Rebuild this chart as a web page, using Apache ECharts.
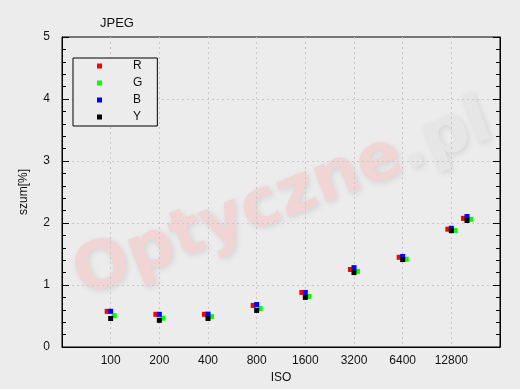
<!DOCTYPE html>
<html>
<head>
<meta charset="utf-8">
<script src="https://cdn.jsdelivr.net/npm/echarts@6/dist/echarts.min.js"></script>
<style>
html,body{margin:0;padding:0;background:#ececec;}
#chart{width:520px;height:389px;}
</style>
</head>
<body>
<div id="chart"></div>
<script>
// ISO tick labels (axis categories) and ISO values of measured points, expressed relative to ISO 100
const isoLabels = ['100', '200', '400', '800', '1600', '3200', '6400', '12800'];
const isoRatio = [1, 2, 4, 8, 16, 32, 64, 128, 160];
const seriesNames = ['R', 'G', 'B', 'Y'];
const valuesR = [0.575, 0.527, 0.527, 0.670, 0.880, 1.250, 1.447, 1.900, 2.075];
const valuesG = [0.505, 0.465, 0.490, 0.620, 0.815, 1.220, 1.415, 1.880, 2.060];
const valuesB = [0.576, 0.527, 0.530, 0.685, 0.880, 1.280, 1.460, 1.915, 2.105];
const valuesY = [0.460, 0.430, 0.460, 0.590, 0.800, 1.200, 1.410, 1.876, 2.040];
const yTicks = [0, 1, 2, 3, 4, 5];

const colors = {R: '#ff0000', G: '#00ff00', B: '#0000ff', Y: '#000000'};
const offsets = {R: [-3.5, 0], G: [3.5, 0], B: [0, 0], Y: [0, 0]};
const allValues = {R: valuesR, G: valuesG, B: valuesB, Y: valuesY};

const chart = echarts.init(document.getElementById('chart'), null, {renderer: 'canvas'});
const font = '"Liberation Sans", Arial, sans-serif';
const gridLine = {show: true, showMinLine: false, showMaxLine: false, lineStyle: {color: '#c8c8c8', type: [2, 3], width: 1}};

const option = {
  backgroundColor: '#ececec',
  animation: false,
  textStyle: {fontFamily: font},
  title: {
    text: 'JPEG', left: 100, top: 17, padding: 0,
    textStyle: {fontSize: 13, fontWeight: 'normal', color: '#111', fontFamily: font}
  },
  graphic: [{
    type: 'text', x: 283, y: 200, rotation: 0.37, z: -10, silent: true,
    style: {
      text: '{a|Optyczne}{b|.pl}',
      align: 'center', verticalAlign: 'middle',
      rich: {
        a: {font: 'bold 66px "DejaVu Sans"', fill: '#f1d4d4', textShadowColor: 'rgba(0,0,0,0.10)', textShadowBlur: 6, textShadowOffsetX: 2, textShadowOffsetY: 2},
        b: {font: 'bold 66px "DejaVu Sans"', fill: '#e6e6e6', textShadowColor: 'rgba(0,0,0,0.10)', textShadowBlur: 6, textShadowOffsetX: 2, textShadowOffsetY: 2}
      }
    }
  }],
  legend: {
    data: seriesNames, orient: 'vertical', left: 73, top: 58,
    icon: 'rect', itemWidth: 5, itemHeight: 5, itemGap: 5,
    borderColor: '#000', borderWidth: 1, backgroundColor: '#ececec',
    padding: [2, 15, 3, 24],
    textStyle: {fontSize: 12, color: '#111', padding: [0, 0, 0, 26], lineHeight: 12, fontFamily: font}
  },
  grid: {
    left: 62, right: 20, top: 37, bottom: 42,
    show: true, borderColor: '#000', borderWidth: 1, backgroundColor: 'transparent'
  },
  xAxis: {
    type: 'log', logBase: 2, min: 0.5, max: 256,
    name: 'ISO', nameLocation: 'middle', nameGap: 24,
    nameTextStyle: {fontSize: 12, color: '#111', fontFamily: font},
    axisLine: {show: true, lineStyle: {color: '#000'}},
    axisTick: {show: false},
    axisLabel: {
      fontSize: 12, color: '#111', margin: 8, fontFamily: font,
      formatter: function (v) {
        const i = Math.round(Math.log2(v));
        return isoLabels[i] !== undefined ? isoLabels[i] : '';
      }
    },
    splitLine: gridLine,
    minorTick: {show: false}, minorSplitLine: {show: false}
  },
  yAxis: [{
    type: 'value', min: yTicks[0], max: yTicks[yTicks.length - 1], interval: 1,
    name: 'szum[%]', nameLocation: 'middle', nameGap: 32, nameRotate: 90,
    nameTextStyle: {fontSize: 12, color: '#111', fontFamily: font},
    axisLine: {show: true, lineStyle: {color: '#000'}},
    axisTick: {show: true, inside: true, length: 7, lineStyle: {color: '#000'}},
    minorTick: {show: true, splitNumber: 5, length: 4, lineStyle: {color: '#000'}},
    axisLabel: {fontSize: 12, color: '#111', margin: 12, fontFamily: font},
    splitLine: gridLine
  }, {
    type: 'value', min: yTicks[0], max: yTicks[yTicks.length - 1], interval: 1, position: 'right',
    axisLine: {show: true, lineStyle: {color: '#000'}},
    axisTick: {show: true, inside: true, length: 7, lineStyle: {color: '#000'}},
    minorTick: {show: true, splitNumber: 5, length: 4, lineStyle: {color: '#000'}},
    axisLabel: {show: false},
    splitLine: {show: false}
  }],
  series: seriesNames.map(function (n) {
    return {
      name: n, type: 'scatter', symbol: 'rect', symbolSize: 5,
      symbolOffset: offsets[n],
      itemStyle: {color: colors[n], opacity: 1},
      data: isoRatio.map(function (x, i) { return [x, allValues[n][i]]; })
    };
  })
};
chart.setOption(option);
</script>
</body>
</html>
